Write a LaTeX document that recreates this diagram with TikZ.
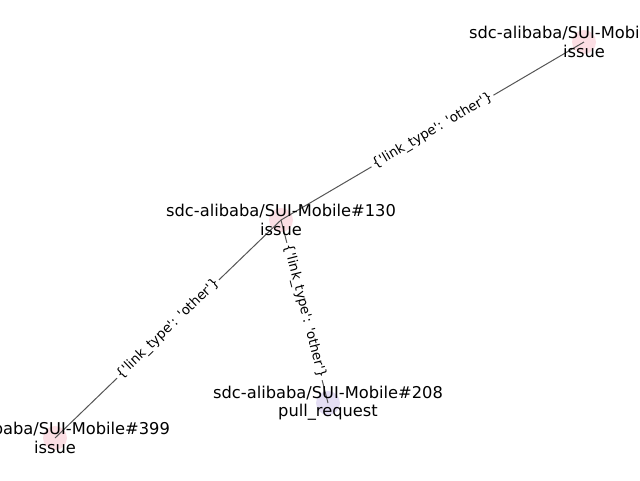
\documentclass[tikz,border=0pt]{standalone}
\usepackage{fontspec}
\setmainfont{DejaVu Sans}
\definecolor{issuepink}{RGB}{251,222,228}
\definecolor{prlav}{RGB}{228,222,244}
\definecolor{edgegray}{RGB}{85,85,85}
\newcommand{\sq}{\textquotesingle}
\begin{document}
\begin{tikzpicture}[x=0.75pt,y=-0.75pt,
  dot/.style={circle,minimum size=18pt,inner sep=0pt,draw=none},
  lbl/.style={align=center,font=\fontsize{12.2pt}{13.8pt}\selectfont,inner sep=0pt},
  conn/.style={draw=edgegray,line width=0.75pt},
  elabel/.style={midway,sloped,fill=white,rounded corners=2pt,inner sep=1.5pt,font=\fontsize{10pt}{12pt}\selectfont}]
\useasboundingbox (0,0) rectangle (640,480);
\clip (0,0) rectangle (640,480);
\node[dot,fill=issuepink] (A) at (281,220) {};
\node[dot,fill=issuepink] (B) at (584,42) {};
\node[dot,fill=issuepink] (C) at (55,438) {};
\node[dot,fill=prlav] (D) at (328,403) {};
\draw[conn] (A.center) -- (B.center) node[elabel] {\{\sq link\_type\sq: \sq other\sq\}};
\draw[conn] (A.center) -- (C.center) node[elabel] {\{\sq link\_type\sq: \sq other\sq\}};
\draw[conn] (A.center) -- (D.center) node[elabel] {\{\sq link\_type\sq: \sq other\sq\}};
\node[lbl] (tA) at (A) {sdc-alibaba/SUI-Mobile\#130\\issue};
\node[lbl] (tB) at (B) {sdc-alibaba/SUI-Mobile\#101\\issue};
\node[lbl] (tC) at (C) {sdc-alibaba/SUI-Mobile\#399\\issue};
\node[lbl] (tD) at (D) {sdc-alibaba/SUI-Mobile\#208\\pull\_request};
\end{tikzpicture}
\end{document}
